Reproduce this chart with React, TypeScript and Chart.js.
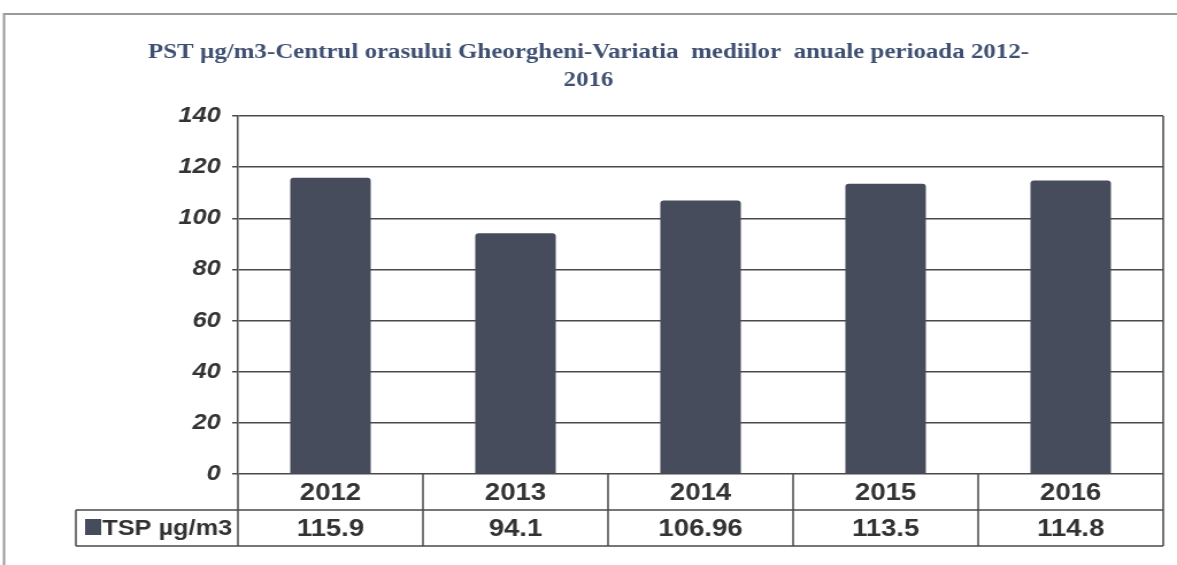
import React, { useEffect, useRef } from "react";
import { Chart, registerables } from "chart.js";

Chart.register(...registerables);

const categories = ["2012", "2013", "2014", "2015", "2016"];
const tspValues = [115.9, 94.1, 106.96, 113.5, 114.8];
const seriesName = "TSP µg/m3";
const titleLines = [
  "PST µg/m3-Centrul orasului Gheorgheni-Variatia  mediilor  anuale perioada 2012-",
  "2016",
];
const yMin = 0;
const yMax = 140;
const yStep = 20;

const SCREEN_W = 1177;
const CANVAS_W = 1024;
const CANVAS_H = 565;
const STRETCH = SCREEN_W / CANVAS_W;

const BAR_COLOR = "#474c5c";
const LINE_COLOR = "#4a4a4a";
const TEXT_COLOR = "#333333";
const TITLE_COLOR = "#3f5072";

const framePlugin = {
  id: "frameAndTable",
  beforeDraw(chart: any) {
    const ctx = chart.ctx;
    ctx.save();
    ctx.fillStyle = "#ffffff";
    ctx.fillRect(0, 0, chart.width, chart.height);
    // outer frame
    ctx.strokeStyle = "#9a9a9a";
    ctx.lineWidth = 2;
    ctx.beginPath();
    ctx.moveTo(3.5, chart.height);
    ctx.lineTo(3.5, 14);
    ctx.lineTo(chart.width, 14);
    ctx.stroke();
    // title
    ctx.fillStyle = TITLE_COLOR;
    ctx.font = "bold 21.7px 'Liberation Serif', 'Times New Roman', serif";
    ctx.textAlign = "center";
    ctx.textBaseline = "middle";
    const cx = chart.width / 2;
    titleLines.forEach((t, i) => ctx.fillText(t, cx, 52 + i * 28));
    ctx.restore();
  },
  afterDraw(chart: any) {
    const ctx = chart.ctx;
    const area = chart.chartArea;
    const xs = chart.scales.x;
    const n = categories.length;
    const cw = (area.right - area.left) / n;
    const row1Top = area.bottom;
    const row2Top = area.bottom + 36;
    const row2Bottom = area.bottom + 72;
    const legendLeft = 66;
    ctx.save();
    ctx.strokeStyle = LINE_COLOR;
    ctx.lineWidth = 1.5;
    ctx.beginPath();
    // right border of plot
    ctx.moveTo(area.right, area.top);
    ctx.lineTo(area.right, row2Bottom);
    // y-axis extension through table
    ctx.moveTo(area.left, area.bottom);
    ctx.lineTo(area.left, row2Bottom);
    // category boundaries
    for (let i = 1; i < n; i++) {
      const x = area.left + i * cw;
      ctx.moveTo(x, row1Top);
      ctx.lineTo(x, row2Bottom);
    }
    // horizontal table lines
    ctx.moveTo(legendLeft, row2Top);
    ctx.lineTo(area.right, row2Top);
    ctx.moveTo(legendLeft, row2Bottom);
    ctx.lineTo(area.right, row2Bottom);
    ctx.moveTo(legendLeft, row2Top);
    ctx.lineTo(legendLeft, row2Bottom);
    ctx.stroke();

    ctx.fillStyle = TEXT_COLOR;
    ctx.font = "bold 24px 'Liberation Sans', Arial, sans-serif";
    ctx.textAlign = "center";
    ctx.textBaseline = "middle";
    categories.forEach((c, i) => {
      const x = xs.getPixelForValue(i);
      ctx.fillText(c, x, (row1Top + row2Top) / 2 + 1);
      ctx.fillText(String(tspValues[i]), x, (row2Top + row2Bottom) / 2 + 1);
    });
    // legend key
    ctx.fillStyle = BAR_COLOR;
    ctx.fillRect(legendLeft + 8, row2Top + 9, 14, 16);
    ctx.fillStyle = TEXT_COLOR;
    ctx.textAlign = "left";
    ctx.font = "bold 22px 'Liberation Sans', Arial, sans-serif";
    ctx.fillText(seriesName, legendLeft + 23, (row2Top + row2Bottom) / 2 + 1);
    ctx.restore();
  },
};

export default function App() {
  const canvasRef = useRef<HTMLCanvasElement | null>(null);

  useEffect(() => {
    const canvas = canvasRef.current;
    if (!canvas) return;
    const chart = new Chart(canvas, {
      type: "bar",
      data: {
        labels: categories,
        datasets: [
          {
            label: seriesName,
            data: tspValues,
            backgroundColor: BAR_COLOR,
            borderWidth: 0,
            borderRadius: { topLeft: 3, topRight: 3, bottomLeft: 0, bottomRight: 0 },
            borderSkipped: false,
            barPercentage: 0.435,
            categoryPercentage: 1,
          },
        ],
      },
      options: {
        responsive: false,
        animation: false,
        layout: { padding: { top: 116, right: 12, bottom: 91, left: 0 } },
        plugins: {
          legend: { display: false },
          title: { display: false },
          tooltip: { enabled: false },
        },
        scales: {
          x: { display: false },
          y: {
            min: yMin,
            max: yMax,
            afterFit(scale: any) {
              scale.width = 207;
            },
            ticks: {
              stepSize: yStep,
              padding: 10,
              color: TEXT_COLOR,
              font: { family: "'Liberation Sans', Arial, sans-serif", size: 22, weight: "bold", style: "italic" },
            },
            grid: { color: LINE_COLOR, lineWidth: 1.5, tickLength: 5, drawTicks: true },
            border: { display: true, color: LINE_COLOR, width: 1.5 },
          },
        },
      },
      plugins: [framePlugin],
    });
    return () => chart.destroy();
  }, []);

  return (
    <div style={{ position: "fixed", left: 0, top: 0, width: SCREEN_W, height: CANVAS_H, overflow: "hidden", background: "#fff" }}>
      <div style={{ width: CANVAS_W, height: CANVAS_H, transform: `scaleX(${STRETCH})`, transformOrigin: "0 0" }}>
        <canvas ref={canvasRef} width={CANVAS_W} height={CANVAS_H} />
      </div>
    </div>
  );
}
